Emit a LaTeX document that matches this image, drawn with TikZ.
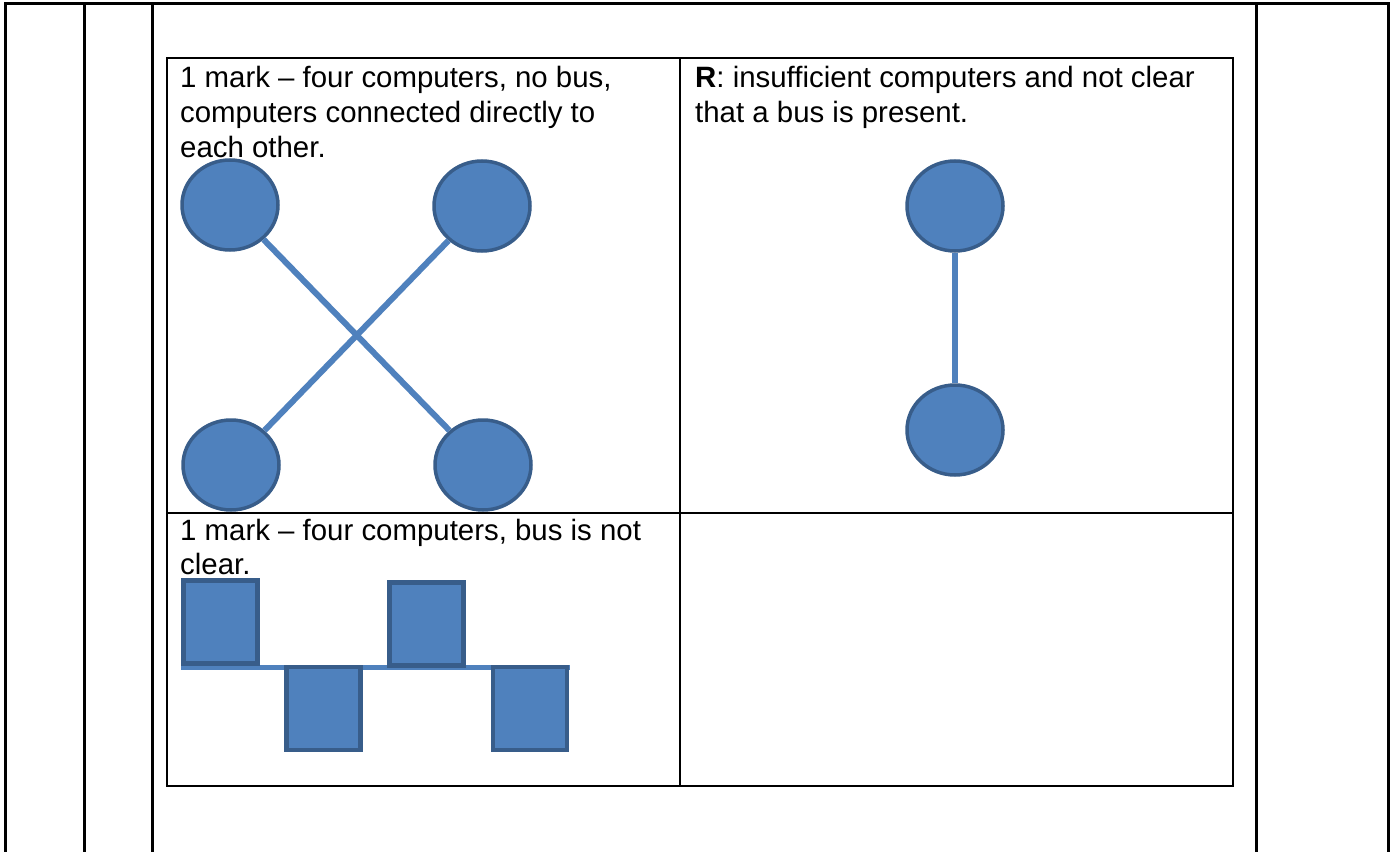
\documentclass[tikz,border=0pt]{standalone}
\usepackage{fontspec}
\setmainfont{Liberation Sans}
\usetikzlibrary{shapes.geometric}
\definecolor{pcfill}{HTML}{4F81BD}
\definecolor{pcedge}{HTML}{385D8A}
\begin{document}
\begin{tikzpicture}[x=1pt,y=-1pt,
  frame/.style={line width=3pt,black},
  grid/.style={line width=2.2pt,black},
  pc/.style={ellipse,draw=pcedge,fill=pcfill,line width=3.5pt,minimum width=96pt,minimum height=90pt,inner sep=0pt},
  pcsq/.style={rectangle,draw=pcedge,fill=pcfill,line width=4.5pt,minimum width=74pt,minimum height=83pt,inner sep=0pt},
  link/.style={pcfill,line width=6pt},
  txt/.style={anchor=base west,inner sep=0pt,font=\fontsize{29.4}{34}\selectfont}]
\useasboundingbox (0,0) rectangle (1394,851);
\fill[white] (0,0) rectangle (1394,851);
% outer frame
\draw[frame] (5,852) -- (5,4) -- (1388,4) -- (1388,852);
\draw[frame] (84,4) -- (84,852);
\draw[frame] (152,4) -- (152,852);
\draw[frame] (1256,4) -- (1256,852);
% inner table
\draw[grid] (167,58) rectangle (1233,786);
\draw[grid] (680,58) -- (680,786);
\draw[grid] (167,513) -- (1233,513);
% texts
\node[txt] (t1a) at (180,88) {1 mark -- four computers, no bus,};
\node[txt] (t1b) at (180,122.5) {computers connected directly to};
\node[txt] (t1c) at (180,157) {each other.};
\node[txt] (t2a) at (695,88) {\textbf{R}: insufficient computers and not clear};
\node[txt] (t2b) at (695,122.5) {that a bus is present.};
\node[txt] (t3a) at (180,540) {1 mark -- four computers, bus is not};
\node[txt] (t3b) at (180,574) {clear.};
% cross network
\node[pc] (tl) at (230,205) {};
\node[pc] (tr) at (482,206) {};
\node[pc] (bl) at (231,465) {};
\node[pc] (br) at (483,465) {};
\draw[link] (tl) -- (br);
\draw[link] (tr) -- (bl);
% two computers
\node[pc] (rt) at (955,206) {};
\node[pc] (rb) at (955,430) {};
\draw[link] (rt) -- (rb);
% bus
\coordinate (busL) at (181,667);
\coordinate (busR) at (570,667);
\draw[pcfill,line width=5pt] (busL) -- (busR);
\node[pcsq] (s1) at (220.5,622) {};
\node[pcsq] (s2) at (323.5,708.5) {};
\node[pcsq] (s3) at (426.5,624) {};
\node[pcsq] (s4) at (530,708.5) {};
\end{tikzpicture}
\end{document}
